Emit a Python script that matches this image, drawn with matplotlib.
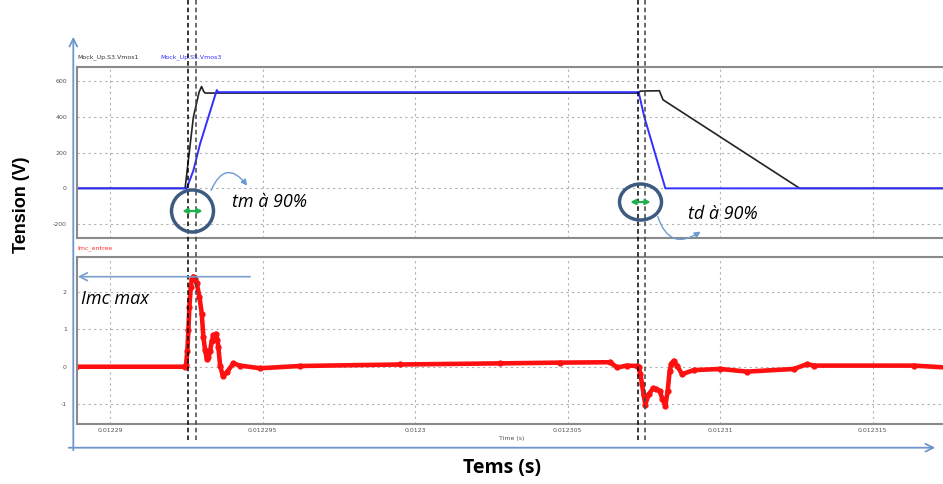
import matplotlib
matplotlib.use("Agg")
import matplotlib.pyplot as plt
from matplotlib.patches import Ellipse, FancyArrowPatch
from matplotlib.lines import Line2D
from matplotlib import transforms

plt.rcParams['axes.unicode_minus'] = False

# temps (s) et tensions (V) des deux MOS
t_vmos1 = [0.0122889, 0.01229246, 0.012292732, 0.012292919, 0.012293001, 0.012293066,
           0.012293116, 0.012307316, 0.012307382, 0.012308005, 0.012308126, 0.012312606,
           0.0123174]
v_vmos1 = [0, 0, 400, 540, 572, 545, 535, 535, 546, 548, 497, 0, 0]

t_vmos3 = [0.0122889, 0.012292515, 0.012292732, 0.012292952, 0.012293224, 0.012293499,
           0.012293542, 0.012307326, 0.012307513, 0.012308202, 0.0123174]
v_vmos3 = [0, 0, 100, 250, 400, 552, 540, 540, 400, 0, 0]

# courant d'entree Imc (A)
t_imc = [0.0122889, 0.01229246, 0.012292492, 0.012292535, 0.012292568, 0.012292601,
         0.012292647, 0.012292689, 0.012292732, 0.012292788, 0.012292843, 0.012292929,
         0.012293007, 0.01229306, 0.012293116, 0.012293171, 0.012293224, 0.01229328,
         0.012293335, 0.012293388, 0.012293476, 0.012293519, 0.012293552, 0.012293608,
         0.012293696, 0.012293827, 0.012294044, 0.012294263, 0.012294919, 0.012296231,
         0.012299511, 0.01230279, 0.012304758, 0.012306398, 0.012306618, 0.012306946,
         0.012307283, 0.012307326, 0.012307382, 0.012307438, 0.01230749, 0.012307546,
         0.012307654, 0.012307798, 0.012307907, 0.012308015, 0.012308103, 0.012308202,
         0.012308277, 0.012308343, 0.012308399, 0.012308474, 0.012308586, 0.012308749,
         0.01230913, 0.012310006, 0.012310881, 0.012312409, 0.012312849, 0.012313066,
         0.012316345, 0.0123174]
i_imc = [0, 0, 0.05, 0.43, 0.97, 1.6, 2.14, 2.35, 2.41, 2.35, 2.23, 1.87,
         1.42, 0.79, 0.45, 0.21, 0.25, 0.43, 0.68, 0.84, 0.88, 0.72, 0.52, 0.03,
         -0.24, -0.15, 0.09, 0.03, -0.04, 0.02, 0.06, 0.09, 0.11, 0.12, -0.02, 0.03,
         0.02, 0.0, -0.2, -0.47, -0.75, -1.01, -0.74, -0.58, -0.6, -0.65, -0.85, -1.04,
         -0.65, -0.11, 0.08, 0.16, 0.03, -0.2, -0.09, -0.06, -0.13, -0.06, 0.07, 0.03,
         0.03, -0.02]

x_ticks = [0.01229, 0.012295, 0.0123, 0.012305, 0.01231, 0.012315]
x_labels = ['0.01229', '0.012295', '0.0123', '0.012305', '0.01231', '0.012315']
v_ticks = [-200, 0, 200, 400, 600]
i_ticks = [-1, 0, 1, 2]
t_curseurs = [0.012292568, 0.01229282, 0.012307293, 0.012307523]

W, H = 943, 484
fig = plt.figure(figsize=(W / 100, H / 100), dpi=100)
fig.patch.set_facecolor('white')


def box(x0, y0, x1, y1):
    return [x0 / W, 1 - y1 / H, (x1 - x0) / W, (y1 - y0) / H]


ax1 = fig.add_axes(box(76.7, 66.7, 946, 237.7))
ax2 = fig.add_axes(box(76.7, 256.7, 946, 424))

for ax in (ax1, ax2):
    ax.set_xlim(0.012288908, 0.0123174)
    ax.set_xticks(x_ticks)
    ax.grid(True, color='#b0b0b0', ls=(0, (2, 3)), lw=0.8)
    for s in ax.spines.values():
        s.set_color('#8a8a8a')
        s.set_linewidth(1.5)
    ax.tick_params(length=0, labelsize=4.5, labelcolor='#555555', pad=7)

ax1.plot(t_vmos1, v_vmos1, color='#222222', lw=1.2)
ax1.plot(t_vmos3, v_vmos3, color='#3030ff', lw=1.4)
ax1.set_ylim(-277, 683)
ax1.set_yticks(v_ticks)
ax1.set_xticklabels([])

ax2.plot(t_imc, i_imc, color='#ff1010', lw=3.3, marker='o', markersize=3.5)
ax2.set_ylim(-1.53, 2.94)
ax2.set_yticks(i_ticks)
ax2.set_xticklabels(x_labels)
ax2.tick_params(axis='x', pad=3)
ax2.set_xlabel('Time (s)', fontsize=4.5, color='#555555', labelpad=2)

# petits noms des courbes
fig.text(77 / W, 1 - 57 / H, 'Mock_Up.S3.Vmos1', fontsize=4.5, color='#333333', va='center')
fig.text(160 / W, 1 - 57 / H, 'Mock_Up.S5.Vmos3', fontsize=4.5, color='#3030ff', va='center')
fig.text(77 / W, 1 - 248 / H, 'Imc_entree', fontsize=4.5, color='#ff3030', va='center')

# curseurs verticaux
trans = transforms.blended_transform_factory(ax1.transData, fig.transFigure)
for k, t in enumerate(t_curseurs):
    fig.add_artist(Line2D([t, t], [1.0, 1 - 442 / H], transform=trans,
                          color='black' if k % 2 == 0 else '#444444',
                          lw=1.1, ls=(0, (3, 2)), zorder=5))

# calque d'annotations en pixels
ov = fig.add_axes([0, 0, 1, 1], zorder=10)
ov.set_xlim(0, W)
ov.set_ylim(H, 0)
ov.axis('off')
ov.patch.set_alpha(0)

axe_col = '#6f95cc'
ov.add_patch(FancyArrowPatch((73.3, 453), (73.3, 34), arrowstyle='->', mutation_scale=14,
                             color=axe_col, lw=1.3))
ov.add_patch(FancyArrowPatch((66, 447.7), (938, 447.7), arrowstyle='->', mutation_scale=14,
                             color=axe_col, lw=1.3))

# Imc max
ov.add_patch(FancyArrowPatch((253, 276.7), (75, 276.7), arrowstyle='->', mutation_scale=14,
                             color='#7a9fcf', lw=1.2))
ov.text(81, 299, 'Imc max', fontsize=13, style='italic', family='Open Sans',
        va='center', ha='left', color='black')

# ellipses et fleches vertes
for (cx, cy, w, h) in [(192.5, 211, 42, 42), (640.5, 202, 42, 36)]:
    ov.add_patch(Ellipse((cx, cy), w, h, fill=False, ec='#3d5a80', lw=2.5))
    ov.add_patch(FancyArrowPatch((cx - 13, cy), (cx + 13, cy), arrowstyle='<|-|>',
                                 mutation_scale=7, color='#22b04e', lw=1.6))

ov.add_patch(FancyArrowPatch((210, 193), (249, 188), connectionstyle='arc3,rad=-0.9',
                             arrowstyle='-|>', mutation_scale=9, color='#6d9bd1', lw=1.0))
ov.add_patch(FancyArrowPatch((657, 214), (703, 230), connectionstyle='arc3,rad=0.7',
                             arrowstyle='-|>', mutation_scale=9, color='#6d9bd1', lw=1.0))

ov.text(232, 202, 'tm à 90%', fontsize=13, style='italic', family='Open Sans',
        va='center', ha='left', color='black')
ov.text(688, 214, 'td à 90%', fontsize=13, style='italic', family='Open Sans',
        va='center', ha='left', color='black')

# titres des axes
ov.text(22, 205, 'Tension (V)', fontsize=13, fontweight='bold', family='Liberation Sans',
        rotation=90, va='center', ha='center')
ov.text(502, 468, 'Tems (s)', fontsize=14, fontweight='bold', family='Open Sans',
        va='center', ha='center')

plt.savefig('out.png', dpi=100, facecolor='white')
